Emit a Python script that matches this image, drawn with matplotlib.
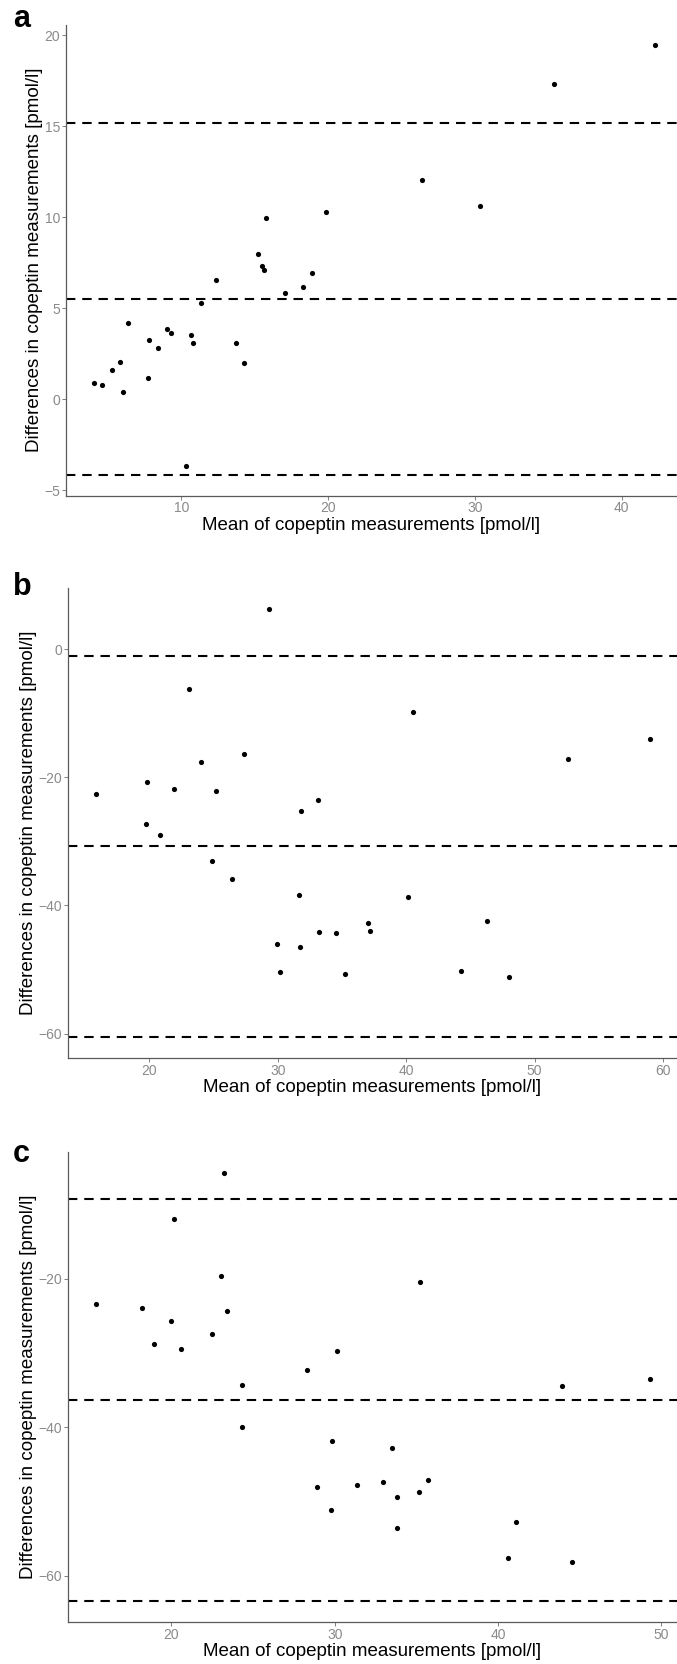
import matplotlib
matplotlib.use('Agg')
from matplotlib import pyplot as plt

plt.rcParams['font.family'] = ['Liberation Sans', 'DejaVu Sans']

# panel a
a_mean = [4.03, 4.59, 5.29, 5.85, 6.06, 6.38, 7.74, 7.82, 8.41, 9.03,
          9.29, 10.29, 10.68, 10.79, 11.35, 12.35, 13.71, 14.26, 15.24, 15.47,
          15.65, 15.79, 17.06, 18.29, 18.91, 19.88, 26.41, 30.35, 35.41, 42.29]
a_diff = [0.88, 0.75, 1.60, 2.02, 0.40, 4.21, 1.16, 3.25, 2.83, 3.84,
          3.64, -3.68, 3.53, 3.09, 5.29, 6.53, 3.09, 1.97, 7.96, 7.32,
          7.10, 9.94, 5.83, 6.16, 6.91, 10.31, 12.06, 10.61, 17.32, 19.45]
a_lines = [15.20, 5.51, -4.15]

# panel b
b_mean = [15.83, 19.73, 19.83, 20.84, 21.88, 23.09, 24.04, 24.88, 25.15, 26.46,
          27.40, 29.28, 29.96, 30.16, 31.64, 31.70, 31.84, 33.15, 33.19, 34.50,
          35.20, 37.02, 37.22, 40.11, 40.55, 44.25, 46.27, 47.99, 52.59, 58.98]
b_diff = [-22.59, -27.22, -20.69, -29.06, -21.86, -6.19, -17.62, -33.07, -22.20, -35.81,
          -16.34, 6.25, -46.07, -50.31, -38.37, -46.46, -25.26, -23.59, -44.12, -44.28,
          -50.70, -42.78, -43.95, -38.71, -9.82, -50.25, -42.44, -51.14, -17.18, -14.05]
b_lines = [-1.07, -30.8, -60.55]

# panel c
c_mean = [15.38, 18.20, 18.92, 19.97, 20.18, 20.61, 22.48, 23.06, 23.25, 23.43,
          24.31, 24.33, 28.30, 28.93, 29.78, 29.85, 30.12, 31.36, 32.95, 33.53,
          33.79, 33.82, 35.14, 35.24, 35.69, 40.63, 41.11, 43.94, 44.52, 49.27]
c_diff = [-23.41, -23.91, -28.77, -25.61, -11.98, -29.42, -27.47, -19.55, -5.71, -24.26,
          -34.24, -40.00, -32.33, -48.07, -51.08, -41.85, -29.72, -47.77, -47.37, -42.81,
          -49.32, -53.53, -48.67, -20.40, -47.07, -57.59, -52.78, -34.49, -58.15, -33.43]
c_lines = [-9.25, -36.3, -63.35]

W, H = 677, 1664
fig = plt.figure(figsize=(W / 100, H / 100), dpi=100)

panels = [
    # letter, x, y, lines, xticks, yticks, xlim, ylim, left px, top px, bottom px, letter baseline px
    ('a', a_mean, a_diff, a_lines, [10, 20, 30, 40], [-5, 0, 5, 10, 15, 20],
     (2.145, 43.76), (-5.31, 20.59), 66, 24.6, 495.7, 26.7),
    ('b', b_mean, b_diff, b_lines, [20, 30, 40, 50, 60], [-60, -40, -20, 0],
     (13.64, 61.1), (-63.84, 9.58), 67.8, 587.6, 1058.3, 595),
    ('c', c_mean, c_diff, c_lines, [20, 30, 40, 50], [-60, -40, -20],
     (13.66, 50.95), (-66.21, -2.84), 67.8, 1151.5, 1622, 1162),
]

for letter, xs, ys, lines, xt, yt, xl, yl, left, top, bottom, base in panels:
    ax = fig.add_axes([left / W, 1 - bottom / H, 1 - left / W, (bottom - top) / H])
    for v in lines:
        ax.axhline(v, color='black', lw=1.5, dashes=(4.5, 3.3), zorder=1)
    ax.scatter(xs, ys, s=14, color='black', linewidths=0, zorder=2)
    ax.set_xlim(*xl)
    ax.set_ylim(*yl)
    ax.set_xticks(xt)
    ax.set_yticks(yt)
    for s in ['top', 'right']:
        ax.spines[s].set_visible(False)
    for s in ['left', 'bottom']:
        ax.spines[s].set_color('#5a5a5a')
        ax.spines[s].set_linewidth(0.9)
    ax.tick_params(length=2.6, width=0.7, color='#7f7f7f', labelcolor='#8a8a8a',
                   labelsize=10, pad=1.5)
    ax.set_xlabel('Mean of copeptin measurements [pmol/l]', fontsize=13.5, labelpad=1)
    ax.set_ylabel('Differences in copeptin measurements [pmol/l]', fontsize=13.5, labelpad=1)
    fig.text(13 / W, 1 - base / H, letter, fontsize=22, fontweight='bold',
             ha='left', va='baseline')

fig.savefig('out.png', dpi=100)
